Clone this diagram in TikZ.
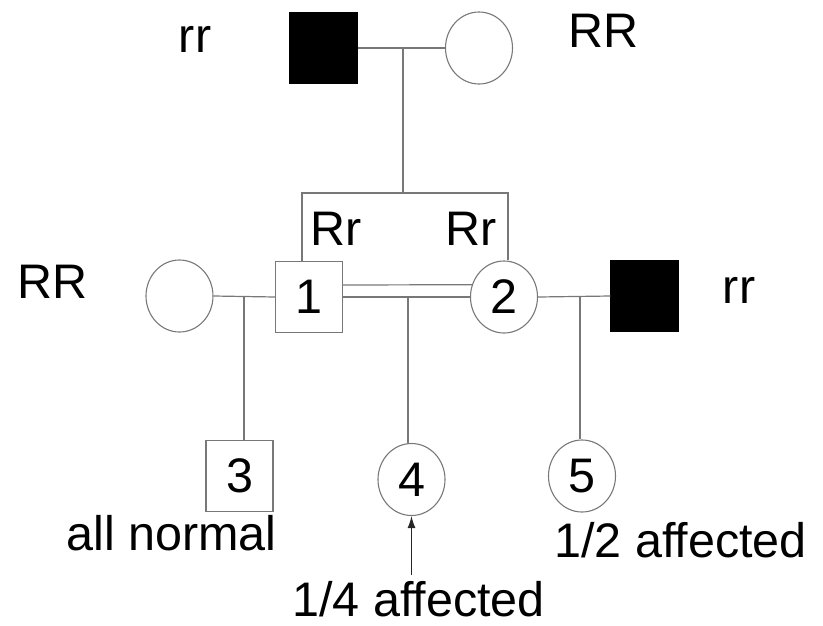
\documentclass[tikz,border=0pt]{standalone}
\usepackage{fontspec}
\setmainfont{Liberation Sans}
\usetikzlibrary{shapes.geometric,arrows.meta}
\definecolor{linegray}{RGB}{120,120,120}
\newcommand\pedfont{\fontsize{48.5}{58}\selectfont}
\begin{document}
\begin{tikzpicture}[x=1pt,y=-1pt,
  line/.style={draw=linegray,line width=1.2pt},
  male/.style={rectangle,draw=linegray,line width=1.2pt,minimum width=67pt,
    minimum height=71pt,inner sep=0pt,font=\pedfont},
  female/.style={ellipse,draw=linegray,line width=1.1pt,minimum width=67pt,
    minimum height=72pt,inner sep=0pt,font=\pedfont},
  affected/.style={fill=black,draw=black},
  geno/.style={anchor=base,inner sep=0pt,font=\pedfont}]
\useasboundingbox (0,0) rectangle (823,625);

% individuals
\node[male,affected] (gf) at (323.5,48) {};
\node[female] (gm) at (479,48) {};
\node[female] (wL) at (179.5,296) {};
\node[male] (p1) at (309,297) {1};
\node[female] (p2) at (504,297) {2};
\node[male,affected] (hR) at (644.5,296) {};
\node[male] (c3) at (239.5,476) {3};
\node[female] (c4) at (411.5,479.5) {4};
\node[female] (c5) at (582,476) {5};

% junction points on the lines
\coordinate (m0) at (403,48);
\coordinate (s0) at (403,193);
\coordinate (sL) at (302,193);
\coordinate (sR) at (508,193);
\coordinate (m3) at (244,296);
\coordinate (m4) at (408,297);
\coordinate (m5) at (580,296);

% grandparents and their two children
\draw[line] (gf.east) -- (gm.west);
\draw[line] (m0) -- (s0);
\draw[line] (sL |- p1.north) -- (sL) -- (sR) -- (sR |- p2.north);

% 1 with unrelated wife, child 3
\draw[line] (wL.east) -- (p1.west);
\draw[line] (m3) -- (m3 |- c3.north);

% consanguineous mating 1 x 2, child 4
\draw[line] ([yshift=12pt]p1.east) -- (p2.159);
\draw[line] (p1.east) -- (p2.west);
\draw[line] (m4) -- (m4 |- c4.north);

% 2 with affected husband, child 5
\draw[line] (p2.east) -- (hR.west);
\draw[line] (m5) -- (m5 |- c5.north);

% genotypes and notes
\node[geno] (g1) at (195,52) {rr};
\node[geno] (g2) at (604,47) {RR};
\node[geno] (g3) at (53,298) {RR};
\node[geno] (g4) at (739,303) {rr};
\node[geno] (g5) at (336,245) {Rr};
\node[geno] (g6) at (471,245) {Rr};
\node[geno] (l3) at (171.5,550) {all normal};
\node[geno] (l5) at (680.5,557) {1/2 affected};
\node[geno] (l4) at (418.5,616) {1/4 affected};

\draw[-{Latex[length=12pt,width=8pt]},line width=1.2pt,black!85,shorten <=6pt]
  (l4.north -| c4.south) -- (c4.south);
\end{tikzpicture}
\end{document}
